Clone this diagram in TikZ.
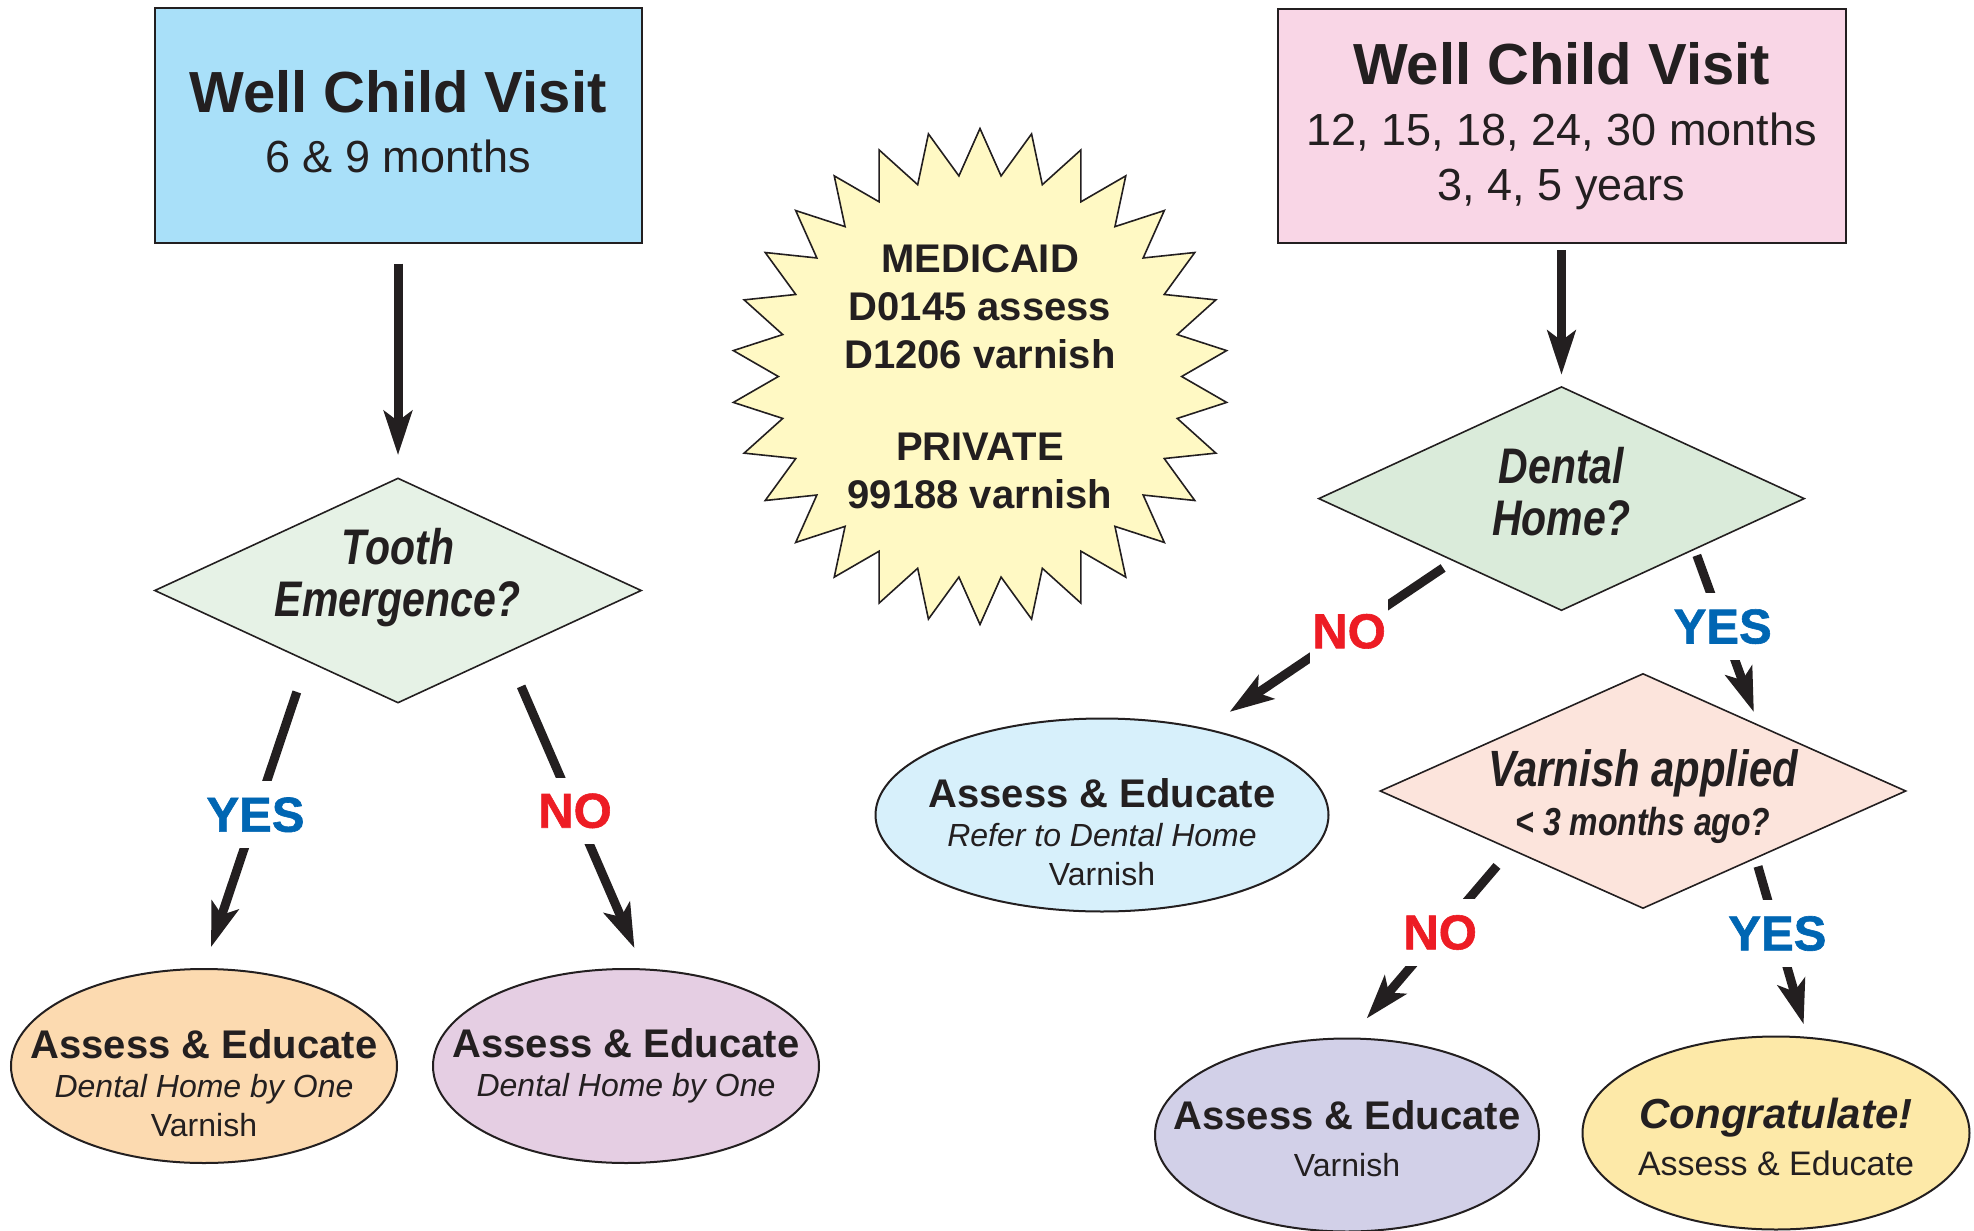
\documentclass[tikz,border=0pt]{standalone}
\usepackage{fontspec}
\setmainfont{Liberation Sans}
\newfontfamily\condfont[FakeStretch=0.82]{Liberation Sans}
\newfontface\heavyface[FakeBold=1.2]{Liberation Sans Bold}
\usetikzlibrary{shapes.geometric,arrows.meta,positioning}

\definecolor{ink}{HTML}{231F20}
\definecolor{skyblue}{HTML}{A9E0F9}
\definecolor{rosepink}{HTML}{F9D6E6}
\definecolor{mintpale}{HTML}{E6F2E6}
\definecolor{mint}{HTML}{DAEBDA}
\definecolor{blush}{HTML}{FCE4DC}
\definecolor{cream}{HTML}{FFF9C4}
\definecolor{peach}{HTML}{FCDAB0}
\definecolor{lilac}{HTML}{E5CEE3}
\definecolor{iceblue}{HTML}{D7F0FB}
\definecolor{lavender}{HTML}{D2D0E8}
\definecolor{butter}{HTML}{FDE9A8}
\definecolor{yesblue}{HTML}{0066B3}
\definecolor{nored}{HTML}{ED1C24}

\begin{document}
\begin{tikzpicture}[
    x=1pt,y=-1pt,
    visit/.style={rectangle,draw=ink,line width=2pt,minimum height=234pt,align=center,text=ink},
    question/.style={diamond,draw=ink,line width=1.6pt,inner sep=0pt},
    qtext/.style={align=center,text=ink,font=\condfont\bfseries\itshape\fontsize{50}{52}\selectfont},
    outcome/.style={ellipse,draw=ink,line width=2pt,minimum width=386pt,minimum height=194pt},
    outtext/.style={align=center,text=ink,font=\fontsize{32}{39}\selectfont},
    arrow/.style={-{Stealth[length=44pt,width=28pt,inset=10pt]},line width=9pt,draw=ink},
    answer/.style={fill=white,inner xsep=2pt,inner ysep=16pt,font=\heavyface\fontsize{49}{49}\selectfont},
    yeslabel/.style={answer,text=yesblue},
    nolabel/.style={answer,text=nored}
]
\useasboundingbox (0,0) rectangle (1974,1231);

% Visits
\node[visit,fill=skyblue,minimum width=487pt,text depth=8pt,font=\fontsize{45}{60}\selectfont] (visitA) at (398,125.5)
    {{\bfseries\fontsize{58}{60}\selectfont Well Child Visit}\\6 \& 9 months};
\node[visit,fill=rosepink,minimum width=568pt,font=\fontsize{45}{55}\selectfont] (visitB) at (1561.5,126)
    {{\bfseries\fontsize{58}{60}\selectfont Well Child Visit}\\[6pt]12, 15, 18, 24, 30 months\\3, 4, 5 years};

% Billing codes
\node[star,star points=30,star point ratio=1.23,draw=ink,line width=1.6pt,fill=cream,
      minimum size=496pt,inner sep=0pt,align=center,text=ink,
      font=\bfseries\fontsize{40}{48}\selectfont] (codes) at (980,376.5)
    {MEDICAID\\D0145 assess\\D1206 varnish\\[44pt]PRIVATE\\99188 varnish};

% Questions
\node[question,fill=mintpale,minimum width=487pt,minimum height=225pt] (tooth) at (398,590.5) {};
\node[qtext,yshift=13pt] (tooth-txt) at (tooth) {Tooth\\Emergence?};
\node[question,fill=mint,minimum width=486pt,minimum height=224pt] (dental) at (1561.5,498.6) {};
\node[qtext,yshift=7pt] (dental-txt) at (dental) {Dental\\Home?};
\node[question,fill=blush,minimum width=526pt,minimum height=235pt] (varn) at (1643,791) {};
\node[qtext,yshift=-6pt,font=\condfont\bfseries\itshape\fontsize{39}{49}\selectfont] (varn-txt) at (varn)
    {{\fontsize{51}{49}\selectfont Varnish applied}\\< 3 months ago?};

% Outcomes
\node[outcome,fill=peach] (firstyes) at (204,1066) {};
\node[outtext,yshift=-17pt] (firstyes-txt) at (firstyes)
    {{\bfseries\fontsize{40}{39}\selectfont Assess \& Educate}\\{\itshape Dental Home by One}\\Varnish};
\node[outcome,fill=lilac] (firstno) at (626,1066) {};
\node[outtext] (firstno-txt) at (firstno)
    {{\bfseries\fontsize{40}{39}\selectfont Assess \& Educate}\\{\itshape Dental Home by One}};
\node[outcome,fill=iceblue,minimum width=453pt,minimum height=193pt] (refer) at (1102,815) {};
\node[outtext,yshift=-17pt] (refer-txt) at (refer)
    {{\bfseries\fontsize{40}{39}\selectfont Assess \& Educate}\\{\itshape Refer to Dental Home}\\Varnish};
\node[outcome,fill=lavender,minimum width=384pt,minimum height=193pt] (lastno) at (1347,1135) {};
\node[outtext,yshift=-4pt] (lastno-txt) at (lastno)
    {{\bfseries\fontsize{40}{39}\selectfont Assess \& Educate}\\[8pt]Varnish};
\node[outcome,fill=butter,minimum width=387pt,minimum height=193pt] (congrats) at (1776,1133) {};
\node[outtext,yshift=-4pt] (congrats-txt) at (congrats)
    {{\bfseries\itshape\fontsize{42}{39}\selectfont Congratulate!}\\[8pt]{\fontsize{34}{39}\selectfont Assess \& Educate}};

% Arrows
\draw[arrow,shorten <=20pt,shorten >=22pt] (visitA) -- (tooth);
\draw[arrow,shorten <=6pt,shorten >=11pt] (visitB) -- (dental);
\draw[arrow,shorten <=32pt,shorten >=22pt] (tooth.218) -- node[yeslabel,midway] {YES} (firstyes.north);
\draw[arrow,shorten <=36pt,shorten >=22pt] (tooth.-30) -- node[nolabel,midway] {NO} (firstno.80);
\draw[arrow,shorten <=12pt,shorten >=29pt] (dental.210) -- node[nolabel,pos=0.42] {NO} (refer.40);
\draw[arrow,shorten <=6pt,shorten >=13pt] (dental.-21) -- node[yeslabel,pos=0.44] {YES} (varn.30);
\draw[arrow,shorten <=21pt,shorten >=25pt] (varn.204) -- node[nolabel,pos=0.44] {NO} (lastno.88);
\draw[arrow,shorten <=8pt,shorten >=13pt] (varn.-31) -- node[yeslabel,pos=0.42] {YES} (congrats.72);

\end{tikzpicture}
\end{document}
